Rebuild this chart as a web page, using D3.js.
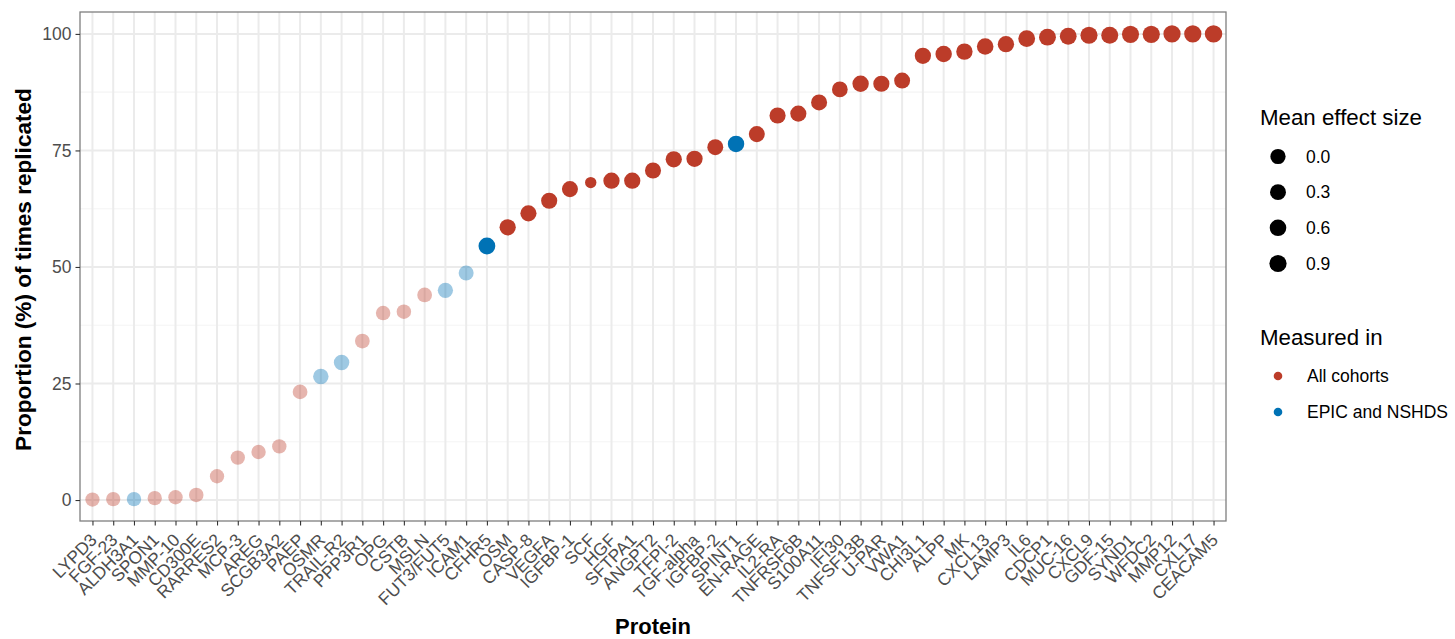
<!DOCTYPE html>
<html>
<head>
<meta charset="utf-8">
<script src="https://cdn.jsdelivr.net/npm/d3@7"></script>
<style>
  html, body { margin: 0; padding: 0; background: #fff; }
  svg { display: block; font-family: "Liberation Sans", Arial, sans-serif; }
</style>
</head>
<body>
<svg id="chart" width="1455" height="639"></svg>
<script>
// ---- Data ----
const proteins = ["LYPD3","FGF-23","ALDH3A1","SPON1","MMP-10","CD300E","RARRES2","MCP-3","AREG","SCGB3A2",
  "PAEP","OSMR","TRAIL-R2","PPP3R1","OPG","CSTB","MSLN","FUT3/FUT5","ICAM1","CFHR5",
  "OSM","CASP-8","VEGFA","IGFBP-1","SCF","HGF","SFTPA1","ANGPT2","TFPI-2","TGF-alpha",
  "IGFBP-2","SPINT1","EN-RAGE","IL2-RA","TNFRSF6B","S100A11","IFI30","TNFSF13B","U-PAR","VWA1",
  "CHI3L1","ALPP","MK","CXCL13","LAMP3","IL6","CDCP1","MUC-16","CXCL9","GDF-15",
  "SYND1","WFDC2","MMP12","CXL17","CEACAM5"];

const replicated = [0.1,0.2,0.2,0.4,0.6,1.1,5.1,9.1,10.3,11.5,
  23.2,26.5,29.5,34.1,40.1,40.4,44.0,45.0,48.7,54.5,
  58.5,61.5,64.2,66.7,68.1,68.5,68.5,70.7,73.1,73.2,
  75.7,76.4,78.5,82.5,82.9,85.3,88.1,89.3,89.3,90.0,
  95.3,95.7,96.2,97.3,97.8,99.0,99.3,99.5,99.7,99.7,
  99.9,99.9,100,100,100];

const effectSize = [-0.4,-0.4,-0.35,-0.4,-0.35,-0.3,-0.4,-0.35,-0.35,-0.35,
  -0.2,0.1,0.1,-0.2,-0.3,-0.3,-0.2,0.0,-0.1,0.7,
  0.45,0.4,0.4,0.35,-1.45,0.45,0.45,0.35,0.45,0.45,
  0.3,0.55,0.35,0.4,0.4,0.35,0.2,0.5,0.4,0.3,
  0.45,0.55,0.5,0.6,0.5,0.7,0.75,0.7,0.85,0.8,
  0.85,0.9,0.9,0.9,1.0];

const measuredIn = ["All","All","EPIC","All","All","All","All","All","All","All",
  "All","EPIC","EPIC","All","All","All","All","EPIC","EPIC","EPIC",
  "All","All","All","All","All","All","All","All","All","All",
  "All","EPIC","All","All","All","All","All","All","All","All",
  "All","All","All","All","All","All","All","All","All","All",
  "All","All","All","All","All"];

// faded = not consistently significant (first 19 proteins)
const faded = proteins.map((p, i) => i < 19);

const yTicks = [0, 25, 50, 75, 100];
const yMinor = [12.5, 37.5, 62.5, 87.5];
const sizeBreaks = [0.0, 0.3, 0.6, 0.9];
const cohortKeys = ["All", "EPIC"];
const cohortLabels = ["All cohorts", "EPIC and NSHDS"];
const cohortColors = ["#BC3C29", "#0072B5"];

// ---- Layout ----
const svg = d3.select("#chart");
const panel = { left: 80, right: 1226, top: 12, bottom: 521 };

const x = d3.scalePoint().domain(proteins).range([panel.left, panel.right]).padding(0.6);
const y = d3.scaleLinear().domain([-4.5, 104.7]).range([panel.bottom, panel.top]);
const color = d3.scaleOrdinal().domain(cohortKeys).range(cohortColors);
// area-linear size scale
const area = d3.scaleLinear().domain([0, 0.9]).range([58, 74]);
const radius = v => Math.sqrt(Math.max(4, area(v)));

// grid
const g = svg.append("g");
g.selectAll("line.minor").data(yMinor).join("line")
  .attr("x1", panel.left).attr("x2", panel.right)
  .attr("y1", d => y(d)).attr("y2", d => y(d))
  .attr("stroke", "#f4f4f4").attr("stroke-width", 1.1);
g.selectAll("line.majy").data(yTicks).join("line")
  .attr("x1", panel.left).attr("x2", panel.right)
  .attr("y1", d => y(d)).attr("y2", d => y(d))
  .attr("stroke", "#ebebeb").attr("stroke-width", 2);
g.selectAll("line.majx").data(proteins).join("line")
  .attr("x1", d => x(d)).attr("x2", d => x(d))
  .attr("y1", panel.top).attr("y2", panel.bottom)
  .attr("stroke", "#ebebeb").attr("stroke-width", 2);

// points
const pts = proteins.map((p, i) => ({ p, v: replicated[i], e: effectSize[i], c: measuredIn[i], f: faded[i] }));
svg.append("g").selectAll("circle").data(pts).join("circle")
  .attr("cx", d => x(d.p)).attr("cy", d => y(d.v))
  .attr("r", d => radius(d.e))
  .attr("fill", d => color(d.c))
  .attr("fill-opacity", d => d.f ? 0.38 : 1);

// panel border
svg.append("rect")
  .attr("x", panel.left).attr("y", panel.top)
  .attr("width", panel.right - panel.left).attr("height", panel.bottom - panel.top)
  .attr("fill", "none").attr("stroke", "#7f7f7f").attr("stroke-width", 1.3);

// y axis
const yAxis = svg.append("g").attr("transform", `translate(${panel.left},0)`)
  .call(d3.axisLeft(y).tickValues(yTicks).tickSize(4.5).tickPadding(4).tickFormat(d3.format("d")));
yAxis.select(".domain").remove();
yAxis.selectAll(".tick line").attr("stroke", "#333").attr("stroke-width", 1.1);
yAxis.selectAll(".tick text").attr("fill", "#4d4d4d").style("font-size", "17.5px")
  .style("font-family", "'Liberation Sans', Arial, sans-serif");

// x axis
const xAxis = svg.append("g").attr("transform", `translate(0,${panel.bottom})`)
  .call(d3.axisBottom(x).tickSize(4.5).tickPadding(3));
xAxis.select(".domain").remove();
xAxis.selectAll(".tick line").attr("stroke", "#333").attr("stroke-width", 1.1);
xAxis.selectAll(".tick text")
  .attr("fill", "#4d4d4d").style("font-size", "17.5px")
  .style("font-family", "'Liberation Sans', Arial, sans-serif")
  .attr("text-anchor", "end")
  .attr("dy", null)
  .attr("y", 0)
  .attr("transform", "translate(5,20) rotate(-45)");

// axis titles
svg.append("text").attr("x", (panel.left + panel.right) / 2).attr("y", 634)
  .attr("text-anchor", "middle").attr("font-weight", "bold").attr("font-size", 22)
  .attr("fill", "#000").text("Protein");
svg.append("text").attr("transform", `translate(31,${(panel.top + panel.bottom) / 2 + 3}) rotate(-90)`)
  .attr("text-anchor", "middle").attr("font-weight", "bold").attr("font-size", 22.6)
  .attr("fill", "#000").text("Proportion (%) of times replicated");

// legend: size
const lg = svg.append("g");
lg.append("text").attr("x", 1260).attr("y", 125).attr("font-size", 22.3).attr("fill", "#000").text("Mean effect size");
const sizeY = d3.scalePoint().domain(sizeBreaks).range([156.5, 263.5]);
lg.selectAll("circle.s").data(sizeBreaks).join("circle")
  .attr("cx", 1278).attr("cy", d => sizeY(d)).attr("r", d => radius(d)).attr("fill", "#000");
lg.selectAll("text.s").data(sizeBreaks).join("text")
  .attr("x", 1306).attr("y", d => sizeY(d) + 6).attr("font-size", 17.5).attr("fill", "#000")
  .text(d => d3.format(".1f")(d));

// legend: colour
lg.append("text").attr("x", 1260).attr("y", 345).attr("font-size", 22.3).attr("fill", "#000").text("Measured in");
const colY = d3.scalePoint().domain(cohortKeys).range([376, 412]);
lg.selectAll("circle.c").data(cohortKeys).join("circle")
  .attr("cx", 1278).attr("cy", d => colY(d)).attr("r", 4.3).attr("fill", d => color(d));
lg.selectAll("text.c").data(cohortKeys).join("text")
  .attr("x", 1307).attr("y", d => colY(d) + 6).attr("font-size", 17.5).attr("fill", "#000")
  .text((d, i) => cohortLabels[i]);
</script>
</body>
</html>
